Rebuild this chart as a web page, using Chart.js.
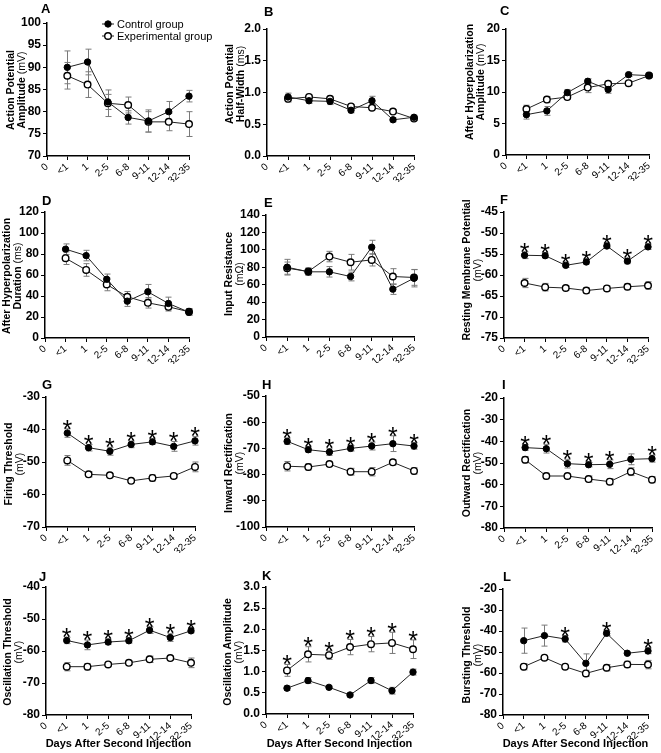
<!DOCTYPE html>
<html>
<head>
<meta charset="utf-8">
<script src="https://cdn.jsdelivr.net/npm/chart.js@4.4.1/dist/chart.umd.min.js"></script>
<style>
  body { margin: 0; background: #fff; width: 661px; height: 753px; position: relative; overflow: hidden;
         font-family: "Liberation Sans", Arial, Helvetica, sans-serif; color: #000; }
  canvas { position: absolute; }
  .letter { position: absolute; font-weight: bold; font-size: 13px; line-height: 13px; }
  .ytitle { position: absolute; font-size: 10.5px; line-height: 11px; text-align: center; white-space: nowrap;
            font-weight: bold; transform: translate(-50%, -50%) rotate(-90deg); }
  .ytitle span { font-weight: normal; }
  .xtitle { position: absolute; font-size: 11px; line-height: 11px; font-weight: bold; white-space: nowrap;
            transform: translate(-50%, -50%); }
</style>
</head>
<body>
<script>
// categories (days after second injection)
const days = ['0', '<1', '1', '2-5', '6-8', '9-11', '12-14', '32-35'];

// A - action potential amplitude (mV)
const apAmpCtrl    = [null, 90.0, 91.2, 82.2, 78.7, 77.9, 80.0, 83.5];
const apAmpCtrlErr = [null, 3.7, 2.9, 1.7, 1.5, 2.5, 2.3, 1.3];
const apAmpExp     = [null, 88.1, 86.1, 81.9, 81.5, 77.7, 77.7, 77.2];
const apAmpExpErr  = [null, 3.0, 2.9, 3.0, 1.8, 2.3, 2.0, 2.8];

// B - action potential half-width (ms)
const apHwCtrl    = [null, 0.93, 0.87, 0.86, 0.72, 0.87, 0.57, 0.61];
const apHwCtrlErr = [null, 0.06, 0.04, 0.05, 0.04, 0.07, 0.03, 0.03];
const apHwExp     = [null, 0.90, 0.93, 0.90, 0.78, 0.76, 0.70, 0.59];
const apHwExpErr  = [null, 0.05, 0.03, 0.04, 0.03, 0.03, 0.03, 0.03];

// C - after hyperpolarization amplitude (mV)
const ahpAmpCtrl    = [null, 6.4, 7.0, 9.9, 11.7, 10.4, 12.75, 12.6];
const ahpAmpCtrlErr = [null, 0.7, 0.7, 0.5, 0.4, 0.6, 0.3, 0.3];
const ahpAmpExp     = [null, 7.3, 8.8, 9.2, 10.7, 11.3, 11.4, 12.6];
const ahpAmpExpErr  = [null, 0.6, 0.5, 0.4, 0.8, 0.3, 0.3, 0.3];

// D - after hyperpolarization duration (ms)
const ahpDurCtrl    = [null, 84.6, 78.5, 55.9, 35.1, 44.0, 32.9, 24.6];
const ahpDurCtrlErr = [null, 5, 5, 5, 5, 7, 6, 3];
const ahpDurExp     = [null, 76, 64.8, 51, 39.3, 33.5, 29.7, 25];
const ahpDurExpErr  = [null, 6, 6, 6, 5, 5, 4, 3];

// E - input resistance
const inResCtrl    = [null, 80.1, 74.8, 74.8, 69.4, 103, 54.9, 67.5];
const inResCtrlErr = [null, 9, 4, 6, 5, 8, 6, 10];
const inResExp     = [null, 79, 75.2, 92.3, 85.8, 88.5, 69.4, 68.3];
const inResExpErr  = [null, 7, 4, 6, 9, 7, 9, 9];

// F - resting membrane potential (mV)
const rmpCtrl    = [null, -55.3, -55.4, -57.7, -56.9, -53.1, -56.7, -53.3];
const rmpCtrlErr = [null, 0.8, 0.5, 0.5, 0.5, 0.4, 0.6, 0.6];
const rmpExp     = [null, -61.9, -62.9, -63.1, -63.7, -63.2, -62.8, -62.5];
const rmpExpErr  = [null, 1.1, 0.9, 0.5, 0.7, 0.6, 0.7, 0.9];

// G - firing threshold (mV)
const fireCtrl    = [null, -41.1, -45.6, -46.7, -44.6, -43.8, -45.2, -43.5];
const fireCtrlErr = [null, 1.3, 1.0, 1.2, 1.0, 0.8, 1.5, 1.3];
const fireExp     = [null, -49.5, -53.8, -54.1, -55.8, -54.9, -54.3, -51.5];
const fireExpErr  = [null, 1.5, 0.8, 0.6, 0.5, 1.0, 0.6, 1.5];

// H - inward rectification (mV)
const inRectCtrl    = [null, -67.3, -70.5, -71.4, -70.0, -69.1, -68.2, -69.1];
const inRectCtrlErr = [null, 1.2, 1.0, 1.3, 1.0, 1.5, 3.0, 1.2];
const inRectExp     = [null, -76.8, -77.1, -76.0, -78.9, -78.9, -75.3, -78.6];
const inRectExpErr  = [null, 1.8, 1.2, 0.8, 1.3, 1.6, 1.0, 1.2];

// I - outward rectification (mV)
const outRectCtrl    = [null, -42.9, -43.4, -50.3, -50.8, -50.6, -48.3, -48.0];
const outRectCtrlErr = [null, 1.3, 2.0, 2.0, 1.0, 2.0, 2.5, 1.6];
const outRectExp     = [null, -48.5, -56.0, -56.0, -57.4, -58.6, -54.0, -57.7];
const outRectExpErr  = [null, 1.5, 1.3, 0.8, 1.4, 1.4, 1.8, 1.4];

// J - oscillation threshold (mV)
const oscThrCtrl    = [null, -56.7, -58.1, -57.2, -56.8, -53.5, -55.8, -53.7];
const oscThrCtrlErr = [null, 1.0, 1.5, 0.8, 0.7, 1.0, 1.2, 0.6];
const oscThrExp     = [null, -64.9, -64.9, -64.2, -63.7, -62.6, -62.2, -63.7];
const oscThrExpErr  = [null, 1.3, 1.0, 0.5, 0.6, 1.0, 0.6, 1.5];

// K - oscillation amplitude (mV)
const oscAmpCtrl    = [null, 0.61, 0.79, 0.63, 0.45, 0.79, 0.55, 0.99];
const oscAmpCtrlErr = [null, 0.05, 0.07, 0.03, 0.03, 0.07, 0.08, 0.07];
const oscAmpExp     = [null, 1.03, 1.41, 1.39, 1.58, 1.65, 1.68, 1.53];
const oscAmpExpErr  = [null, 0.14, 0.18, 0.10, 0.18, 0.18, 0.25, 0.22];

// L - bursting threshold (mV)
const burstCtrl    = [null, -44.6, -42.2, -43.8, -55.4, -41.1, -50.6, -49.5];
const burstCtrlErr = [null, 6.0, 5.0, 1.5, 4.5, 1.0, 0.5, 1.3];
const burstExp     = [null, -57.0, -52.7, -57.0, -60.2, -57.5, -55.9, -56.0];
const burstExpErr  = [null, 1.5, 0.5, 0.5, 1.5, 1.5, 1.5, 2.0];

// significance marks (category indexes)
const allStars = [1, 2, 3, 4, 5, 6, 7];
const outRectStars = [1, 2, 3, 4, 5, 7];
const burstStars = [3, 5, 7];

const FONT = '"Liberation Sans", Arial, Helvetica, sans-serif';
Chart.defaults.font.family = FONT;
Chart.defaults.color = '#000';

// layout of every panel: plot box [left, top, right, bottom] in page pixels
const panels = [
  { letter: 'A', at: [41, 2], box: [47, 23, 189, 156], y: [70, 100, 5], dec: 0, pr: 40,
    title: ['Action Potential', 'Amplitude <span>(mV)</span>'], tc: [15.5, 90],
    ctrl: apAmpCtrl, ctrlErr: apAmpCtrlErr, exp: apAmpExp, expErr: apAmpExpErr, legend: true },
  { letter: 'B', at: [264, 5], box: [267, 29, 414, 156], y: [0, 2, 0.5], dec: 1,
    title: ['Action Potential', 'Half-Width <span>(ms)</span>'], tc: [235, 84],
    ctrl: apHwCtrl, ctrlErr: apHwCtrlErr, exp: apHwExp, expErr: apHwExpErr },
  { letter: 'C', at: [500, 4], box: [506, 29, 649, 155], y: [0, 20, 5], dec: 0,
    title: ['After Hyperpolarization', 'Amplitude <span>(mV)</span>'], tc: [475, 82],
    ctrl: ahpAmpCtrl, ctrlErr: ahpAmpCtrlErr, exp: ahpAmpExp, expErr: ahpAmpExpErr },
  { letter: 'D', at: [42, 194], box: [45, 212, 189, 338], y: [0, 120, 20], dec: 0,
    title: ['After Hyperpolarization', 'Duration <span>(ms)</span>'], tc: [12, 276],
    ctrl: ahpDurCtrl, ctrlErr: ahpDurCtrlErr, exp: ahpDurExp, expErr: ahpDurExpErr },
  { letter: 'E', at: [264, 196], box: [266, 215, 414, 337], y: [0, 140, 20], dec: 0,
    title: ['Input Resistance', '<span>(mΩ)</span>'], tc: [234, 274],
    ctrl: inResCtrl, ctrlErr: inResCtrlErr, exp: inResExp, expErr: inResExpErr },
  { letter: 'F', at: [500, 193], box: [504, 212, 648, 338], y: [-75, -45, 5], dec: 0,
    title: ['Resting Membrane Potential', '<span>(mV)</span>'], tc: [471.5, 270],
    ctrl: rmpCtrl, ctrlErr: rmpCtrlErr, exp: rmpExp, expErr: rmpExpErr, stars: allStars, starOn: 'ctrl' },
  { letter: 'G', at: [42, 378], box: [46, 397, 195, 527], y: [-70, -30, 10], dec: 0,
    title: ['Firing Threshold', '<span>(mV)</span>'], tc: [13.5, 464],
    ctrl: fireCtrl, ctrlErr: fireCtrlErr, exp: fireExp, expErr: fireExpErr, stars: allStars, starOn: 'ctrl' },
  { letter: 'H', at: [262, 378], box: [266, 396, 414, 527], y: [-100, -50, 10], dec: 0,
    title: ['Inward Rectification', '<span>(mV)</span>'], tc: [233.5, 463],
    ctrl: inRectCtrl, ctrlErr: inRectCtrlErr, exp: inRectExp, expErr: inRectExpErr, stars: allStars, starOn: 'ctrl' },
  { letter: 'I', at: [502, 378], box: [504, 398, 652, 528], y: [-80, -20, 10], dec: 0,
    title: ['Outward Rectification', '<span>(mV)</span>'], tc: [471.5, 463],
    ctrl: outRectCtrl, ctrlErr: outRectCtrlErr, exp: outRectExp, expErr: outRectExpErr, stars: outRectStars, starOn: 'ctrl' },
  { letter: 'J', at: [39, 570], box: [46, 587, 191, 715], y: [-80, -40, 10], dec: 0,
    title: ['Oscillation Threshold', '<span>(mV)</span>'], tc: [13, 652],
    ctrl: oscThrCtrl, ctrlErr: oscThrCtrlErr, exp: oscThrExp, expErr: oscThrExpErr, stars: allStars, starOn: 'ctrl', xtitle: true },
  { letter: 'K', at: [262, 569], box: [266, 587, 413, 714], y: [0, 3, 0.5], dec: 1,
    title: ['Oscillation Amplitude', '<span>(mV)</span>'], tc: [233, 652],
    ctrl: oscAmpCtrl, ctrlErr: oscAmpCtrlErr, exp: oscAmpExp, expErr: oscAmpExpErr, stars: allStars, starOn: 'exp', xtitle: true },
  { letter: 'L', at: [503, 570], box: [503, 589, 648, 715], y: [-80, -20, 10], dec: 0,
    title: ['Bursting Threshold', '<span>(mV)</span>'], tc: [472, 655],
    ctrl: burstCtrl, ctrlErr: burstCtrlErr, exp: burstExp, expErr: burstExpErr, stars: burstStars, starOn: 'ctrl', xtitle: true }
];

const YW = 38, PT = 12, XH = 26;

// error bars, drawn under the points
const errBars = {
  id: 'errBars',
  beforeDatasetsDraw(chart) {
    const ctx = chart.ctx, xs = chart.scales.x, ys = chart.scales.y;
    ctx.save();
    ctx.strokeStyle = '#7a7a7a';
    ctx.lineWidth = 1;
    chart.data.datasets.forEach(ds => {
      ds.errors.forEach((e, i) => {
        const v = ds.data[i];
        if (v == null || e == null) return;
        const x = Math.round(xs.getPixelForValue(i)) + 0.5;
        const yt = ys.getPixelForValue(v + e), yb = ys.getPixelForValue(v - e);
        ctx.beginPath();
        ctx.moveTo(x, yt); ctx.lineTo(x, yb);
        ctx.moveTo(x - 3, yt); ctx.lineTo(x + 3, yt);
        ctx.moveTo(x - 3, yb); ctx.lineTo(x + 3, yb);
        ctx.stroke();
      });
    });
    ctx.restore();
  }
};

function makeStars(p) {
  return {
    id: 'stars',
    afterDatasetsDraw(chart) {
      if (!p.stars) return;
      const ctx = chart.ctx, xs = chart.scales.x, ys = chart.scales.y;
      const vals = p.starOn === 'exp' ? p.exp : p.ctrl;
      const errs = p.starOn === 'exp' ? p.expErr : p.ctrlErr;
      const size = 25;
      ctx.save();
      ctx.font = size + 'px ' + FONT;
      ctx.fillStyle = '#000';
      ctx.textAlign = 'center';
      ctx.textBaseline = 'alphabetic';
      p.stars.forEach(i => {
        const top = ys.getPixelForValue(vals[i] + errs[i]);
        ctx.fillText('*', xs.getPixelForValue(i), top - 2 + 0.43 * size);
      });
      ctx.restore();
    }
  };
}

function makeLegend(p, offX, offY) {
  return {
    id: 'legendA',
    afterDraw(chart) {
      if (!p.legend) return;
      const ctx = chart.ctx;
      const rows = [[24, 0], [36, 1]];
      ctx.save();
      rows.forEach(([y, k]) => {
        const ds = chart.data.datasets[k];
        const cx = 108 - offX, cy = y - offY;
        ctx.strokeStyle = '#222';
        ctx.lineWidth = 1;
        ctx.beginPath(); ctx.moveTo(cx - 6, cy); ctx.lineTo(cx + 6, cy); ctx.stroke();
        ctx.beginPath();
        ctx.arc(cx, cy, ds.pointRadius, 0, Math.PI * 2);
        ctx.fillStyle = ds.pointBackgroundColor;
        ctx.fill();
        ctx.lineWidth = ds.pointBorderWidth;
        ctx.strokeStyle = '#000';
        ctx.stroke();
        ctx.fillStyle = '#000';
        ctx.font = '11px ' + FONT;
        ctx.textBaseline = 'middle';
        ctx.fillText(ds.label, 117 - offX, cy + 0.5);
      });
      ctx.restore();
    }
  };
}

panels.forEach(p => {
  const [x0, y0, x1, y1] = p.box;
  const PR = p.pr || 10;
  const w = x1 - x0 + YW + PR, h = y1 - y0 + PT + XH;
  const left = x0 - YW, top = y0 - PT;
  const c = document.createElement('canvas');
  c.width = w; c.height = h;
  c.style.left = left + 'px'; c.style.top = top + 'px';
  c.style.width = w + 'px'; c.style.height = h + 'px';
  document.body.appendChild(c);

  const axisGrid = { drawOnChartArea: false, drawTicks: true, tickLength: 4, color: '#000', lineWidth: 1 };
  const axisBorder = { color: '#000', width: 1.5 };

  new Chart(c, {
    type: 'line',
    data: {
      labels: days,
      datasets: [
        { label: 'Control group', data: p.ctrl, errors: p.ctrlErr, borderColor: '#222', borderWidth: 1,
          pointRadius: 3.2, pointBackgroundColor: '#000', pointBorderColor: '#000', pointBorderWidth: 1, tension: 0 },
        { label: 'Experimental group', data: p.exp, errors: p.expErr, borderColor: '#222', borderWidth: 1,
          pointRadius: 3.3, pointBackgroundColor: '#fff', pointBorderColor: '#000', pointBorderWidth: 1.4, tension: 0 }
      ]
    },
    options: {
      responsive: false,
      animation: false,
      devicePixelRatio: 1,
      layout: { padding: { top: PT, right: PR, left: 0, bottom: 0 } },
      plugins: { legend: { display: false }, tooltip: { enabled: false } },
      scales: {
        x: {
          type: 'category', offset: false,
          grid: axisGrid, border: axisBorder,
          ticks: { autoSkip: false, minRotation: 40, maxRotation: 40, padding: 1, color: '#000',
                   font: { size: 10 } },
          afterFit: s => { s.height = XH; }
        },
        y: {
          min: p.y[0], max: p.y[1],
          grid: axisGrid, border: axisBorder,
          ticks: { stepSize: p.y[2], autoSkip: false, padding: 2, color: '#000',
                   font: { size: 12, weight: 'bold' },
                   callback: v => Number(v).toFixed(p.dec) },
          afterFit: s => { s.width = YW; }
        }
      }
    },
    plugins: [errBars, makeStars(p), makeLegend(p, left, top)]
  });

  const L = document.createElement('div');
  L.className = 'letter';
  L.textContent = p.letter;
  L.style.left = p.at[0] + 'px'; L.style.top = p.at[1] + 'px';
  document.body.appendChild(L);

  const T = document.createElement('div');
  T.className = 'ytitle';
  T.innerHTML = p.title.join('<br>');
  T.style.left = p.tc[0] + 'px'; T.style.top = p.tc[1] + 'px';
  document.body.appendChild(T);

  if (p.xtitle) {
    const X = document.createElement('div');
    X.className = 'xtitle';
    X.textContent = 'Days After Second Injection';
    X.style.left = ((x0 + x1) / 2) + 'px'; X.style.top = '743px';
    document.body.appendChild(X);
  }
});
</script>
</body>
</html>
